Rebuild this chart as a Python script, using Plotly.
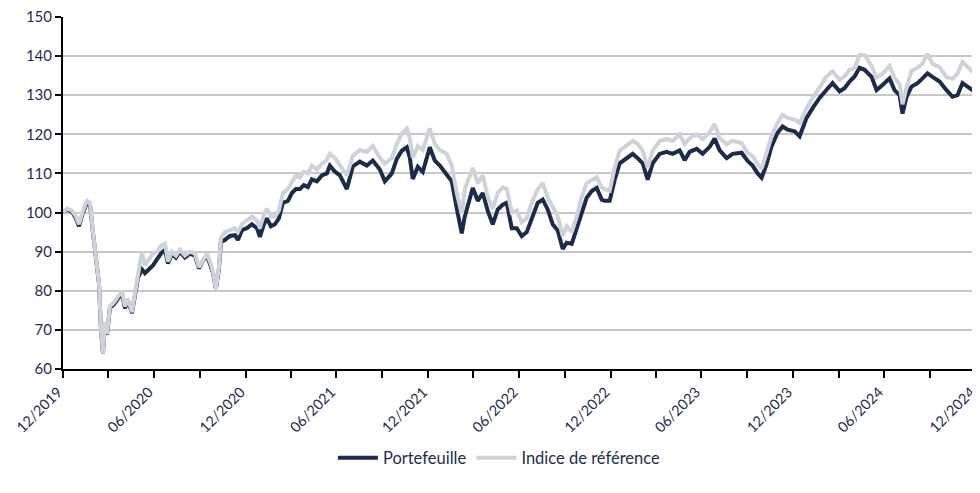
import plotly.graph_objects as go

dates = [
    "2019-12-31", "2020-01-08", "2020-01-18", "2020-01-26", "2020-02-01", "2020-02-09", "2020-02-17", "2020-02-23",
    "2020-02-29", "2020-03-06", "2020-03-12", "2020-03-16", "2020-03-20", "2020-03-24", "2020-03-28", "2020-04-03",
    "2020-04-11", "2020-04-19", "2020-04-27", "2020-05-03", "2020-05-09", "2020-05-17", "2020-05-23", "2020-05-29",
    "2020-06-06", "2020-06-12", "2020-06-20", "2020-06-28", "2020-07-06", "2020-07-14", "2020-07-22", "2020-07-28",
    "2020-08-05", "2020-08-13", "2020-08-21", "2020-08-31", "2020-09-10", "2020-09-20", "2020-09-28", "2020-10-06",
    "2020-10-14", "2020-10-20", "2020-10-26", "2020-11-01", "2020-11-07", "2020-11-11", "2020-11-19", "2020-11-29",
    "2020-12-09", "2020-12-15", "2020-12-23", "2021-01-02", "2021-01-12", "2021-01-22", "2021-01-28", "2021-02-05",
    "2021-02-11", "2021-02-19", "2021-02-27", "2021-03-07", "2021-03-15", "2021-03-25", "2021-04-02", "2021-04-10",
    "2021-04-18", "2021-04-26", "2021-05-04", "2021-05-12", "2021-05-22", "2021-06-01", "2021-06-11", "2021-06-17",
    "2021-06-27", "2021-07-07", "2021-07-21", "2021-08-02", "2021-08-16", "2021-08-30", "2021-09-11", "2021-09-25",
    "2021-10-05", "2021-10-19", "2021-10-29", "2021-11-08", "2021-11-18", "2021-11-24", "2021-11-30", "2021-12-10",
    "2021-12-20", "2022-01-03", "2022-01-13", "2022-01-23", "2022-02-06", "2022-02-16", "2022-02-26", "2022-03-08",
    "2022-03-14", "2022-03-30", "2022-04-09", "2022-04-19", "2022-04-29", "2022-05-09", "2022-05-19", "2022-05-29",
    "2022-06-06", "2022-06-16", "2022-06-26", "2022-07-06", "2022-07-16", "2022-07-26", "2022-08-07", "2022-08-17",
    "2022-08-27", "2022-09-06", "2022-09-16", "2022-09-26", "2022-10-04", "2022-10-14", "2022-10-24", "2022-11-03",
    "2022-11-13", "2022-11-23", "2022-12-03", "2022-12-13", "2022-12-19", "2022-12-29", "2023-01-08", "2023-01-18",
    "2023-02-01", "2023-02-13", "2023-02-23", "2023-03-05", "2023-03-15", "2023-03-25", "2023-04-08", "2023-04-22",
    "2023-05-04", "2023-05-18", "2023-05-28", "2023-06-07", "2023-06-21", "2023-07-03", "2023-07-17", "2023-07-27",
    "2023-08-06", "2023-08-20", "2023-09-01", "2023-09-19", "2023-10-01", "2023-10-11", "2023-10-21", "2023-10-29",
    "2023-11-08", "2023-11-18", "2023-11-30", "2023-12-10", "2023-12-20", "2024-01-03", "2024-01-13", "2024-01-27",
    "2024-02-08", "2024-02-22", "2024-03-07", "2024-03-19", "2024-04-02", "2024-04-12", "2024-04-22", "2024-05-02",
    "2024-05-12", "2024-05-22", "2024-06-05", "2024-06-15", "2024-06-27", "2024-07-11", "2024-07-21", "2024-07-31",
    "2024-08-06", "2024-08-14", "2024-08-24", "2024-09-05", "2024-09-15", "2024-09-25", "2024-10-05", "2024-10-19",
    "2024-11-02", "2024-11-14", "2024-11-24", "2024-12-04", "2024-12-14", "2024-12-24", "2024-12-31",
]

portefeuille = [
    100, 100.8, 100.2, 98.5, 96.5, 100, 102.5, 102,
    94.8, 88.3, 81.8, 69.8, 64, 71.8, 68.8, 75.7,
    76.5, 78, 79.3, 75.5, 77.5, 74.3, 79.5, 83.3,
    85.5, 84.5, 85.5, 86.5, 88, 89.5, 90.5, 87,
    89.5, 88.5, 90, 88.5, 89.5, 89, 85.7, 87.7,
    89, 87, 84.7, 80.5, 85.5, 92.5, 93, 94,
    94.2, 93, 95.5, 96, 97, 96, 93.8, 97,
    98.5, 96.5, 97, 98.5, 102.5, 103, 105, 106,
    106, 107, 106.5, 108.5, 108, 109.5, 110, 112,
    110.5, 109.5, 106, 111.8, 113, 112, 113.3, 111,
    108, 110, 113.7, 115.8, 116.7, 114, 108.6, 111.7,
    110.4, 116.7, 113.3, 112, 109.5, 108, 101, 94.7,
    99, 106.3, 103, 105, 100.4, 97, 100.8, 102,
    102.5, 96, 96, 94, 95, 98.3, 102.5, 103.3,
    100.8, 97, 95.4, 90.7, 92.3, 92, 95.8, 100,
    103.8, 105.5, 106.3, 103.3, 103, 103, 108.4, 112.6,
    113.9, 115, 113.9, 112.6, 108.4, 112.6, 115, 115.5,
    115, 115.9, 113.4, 115.5, 116.3, 115, 116.8, 118.9,
    115.9, 113.9, 115, 115.3, 113.2, 112, 110, 108.9,
    112.4, 117, 120.4, 122, 121.2, 120.8, 119.5, 124.2,
    126.7, 129.3, 131.4, 133.1, 131, 131.8, 133.5, 134.8,
    137, 136.5, 134.7, 131.3, 132.6, 134.3, 131.3, 130,
    125.3, 129.6, 132.2, 133.1, 134.3, 135.6, 134.7, 133.5,
    131.3, 129.6, 130, 133.1, 132.2, 131.3, 132,
]

indice = [
    100, 101, 100.5, 99, 97, 100.5, 103, 102.5,
    95, 88.5, 82, 70, 64, 72, 69, 76,
    77, 78.5, 80, 76, 78, 74.5, 80, 84,
    90, 86.5, 88, 89.5, 90, 91.5, 92, 87.5,
    90, 89, 90.5, 89, 90, 89.5, 86, 88,
    89.5, 87.5, 85, 80.5, 86, 93.5, 95, 95.5,
    96, 95, 97, 98, 99, 98, 96, 99.5,
    101, 99, 99, 100.5, 105, 106, 108, 109.5,
    109, 110.5, 110, 112, 111, 112.5, 113.5, 115,
    114, 112, 109.5, 114.5, 116, 115.5, 117, 114,
    112.5, 114, 117.5, 120.2, 121.5, 119, 114, 117,
    116, 121.5, 117.5, 116, 115, 112, 105, 99.7,
    106, 111.4, 107.5, 109.5, 104, 101, 105, 106.5,
    106, 100, 100.5, 97.5, 98.5, 102.5, 106, 107.5,
    103.8, 101.5, 99, 94, 96.5, 95, 99, 104,
    107.5, 108.3, 109, 106.5, 106, 105.6, 111.5, 115.8,
    117, 118.3, 117.5, 115.8, 111.5, 115.8, 118.3, 118.8,
    118.3, 120, 117.5, 119, 120, 118.8, 120.5, 122.6,
    119, 117.5, 118.3, 117.8, 115.3, 114.5, 112.4, 111.2,
    115.3, 119.5, 122.9, 125, 124.2, 123.8, 122.9, 126.7,
    129.3, 132.3, 134.8, 136.1, 134, 134.8, 136.5, 137,
    140.3, 140.3, 137.5, 134.5, 135.5, 137.5, 134.5, 132.8,
    127.7, 132, 136.3, 137, 138.1, 140.6, 138, 137.2,
    134.6, 134.2, 135.5, 138.5, 137.2, 136, 136,
]

tick_dates = [
    "2019-12-31", "2020-03-31", "2020-06-30", "2020-09-30", "2020-12-31", "2021-03-31",
    "2021-06-30", "2021-09-30", "2021-12-31", "2022-03-31", "2022-06-30", "2022-09-30",
    "2022-12-31", "2023-03-31", "2023-06-30", "2023-09-30", "2023-12-31", "2024-03-31",
    "2024-06-30", "2024-09-30", "2024-12-31",
]
tick_labels = [
    "12/2019", "", "06/2020", "", "12/2020", "", "06/2021", "", "12/2021", "", "06/2022", "",
    "12/2022", "", "06/2023", "", "12/2023", "", "06/2024", "", "12/2024",
]

navy = "#1b2b49"
grey = "#cfd2d9"
text_color = "#1f2d4d"

fig = go.Figure()
fig.add_trace(go.Scatter(x=dates, y=portefeuille, mode="lines", name="Portefeuille",
                         line=dict(color=navy, width=4)))
fig.add_trace(go.Scatter(x=dates, y=indice, mode="lines", name="Indice de référence",
                         line=dict(color=grey, width=4)))

fig.update_layout(
    width=972, height=485,
    margin=dict(l=55, r=4, t=9, b=124, autoexpand=False),
    paper_bgcolor="white", plot_bgcolor="white",
    font=dict(family="Lato, 'Open Sans', sans-serif", size=15, color=text_color),
    showlegend=True,
    legend=dict(orientation="h", x=0.478, xanchor="center", y=-0.253, yanchor="middle",
                font=dict(size=16.5, color=text_color), itemwidth=40),
)
fig.update_xaxes(
    type="date", range=["2019-12-31", "2024-12-31"],
    tickmode="array", tickvals=tick_dates, ticktext=tick_labels,
    tickangle=-45, ticks="outside", ticklen=7, tickwidth=1.5, tickcolor="black",
    showline=True, linecolor="black", linewidth=2, showgrid=False, zeroline=False,
    tickfont=dict(size=14.5, color=text_color), automargin=False,
    ticklabeloverflow="allow", ticklabelshift=-5,
)
fig.update_yaxes(
    range=[60, 150], dtick=10, tick0=60,
    ticks="outside", ticklen=6, tickwidth=1.5, tickcolor="black",
    showline=True, linecolor="black", linewidth=2,
    showgrid=True, gridcolor="#c8c8c8", gridwidth=2, zeroline=False,
    tickfont=dict(size=15, color=text_color), automargin=False,
    ticklabeloverflow="allow",
)

fig.write_html("out.html")
